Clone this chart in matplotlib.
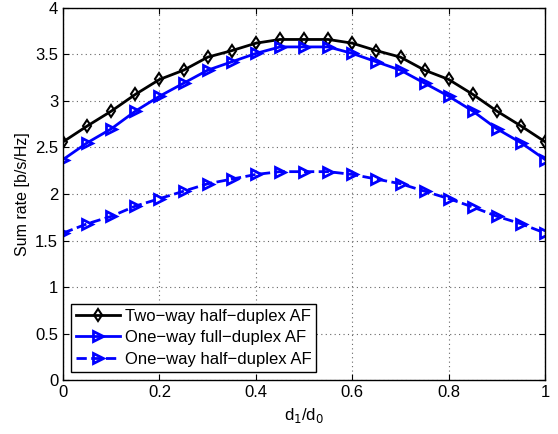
import numpy as np
import matplotlib
matplotlib.use('Agg')
import matplotlib.pyplot as plt

plt.rcParams['font.family'] = ['Liberation Sans', 'DejaVu Sans']

# d1/d0 ratio
ratio = [0.0, 0.05, 0.1, 0.15, 0.2, 0.25, 0.3, 0.35, 0.4, 0.45, 0.5,
         0.55, 0.6, 0.65, 0.7, 0.75, 0.8, 0.85, 0.9, 0.95, 1.0]

# sum rates [b/s/Hz]
two_way_hd = [2.56, 2.73, 2.89, 3.07, 3.23, 3.33, 3.47, 3.54, 3.62, 3.66, 3.66,
              3.66, 3.62, 3.54, 3.47, 3.33, 3.23, 3.07, 2.89, 2.73, 2.56]
one_way_fd = [2.37, 2.55, 2.70, 2.89, 3.05, 3.19, 3.33, 3.42, 3.51, 3.58, 3.58,
              3.58, 3.51, 3.42, 3.33, 3.19, 3.05, 2.89, 2.70, 2.55, 2.37]
one_way_hd = [1.58, 1.68, 1.76, 1.87, 1.95, 2.03, 2.11, 2.16, 2.21, 2.24, 2.24,
              2.24, 2.21, 2.16, 2.11, 2.03, 1.95, 1.86, 1.76, 1.68, 1.58]

fig = plt.figure(figsize=(5.58, 4.34), dpi=100)
ax = fig.add_axes([0.113, 0.124, 0.864, 0.858])

ax.plot(ratio, two_way_hd, 'k-', marker='d', mfc='none', mew=1.5, ms=6, lw=2,
        label='Two\u2212way half\u2212duplex AF')
ax.plot(ratio, one_way_fd, '-', color='b', marker='>', mfc='none', mew=2, ms=6.5, lw=2,
        label='One\u2212way full\u2212duplex AF')
ax.plot(ratio, one_way_hd, '--', color='b', marker='>', mfc='none', mew=2, ms=6.5, lw=2,
        label='One\u2212way half\u2212duplex AF')

ax.set_xlim(0, 1)
ax.set_ylim(0, 4)
ax.set_xticks([0, 0.2, 0.4, 0.6, 0.8, 1])
ax.set_xticklabels(['0', '0.2', '0.4', '0.6', '0.8', '1'])
ax.set_yticks([0, 0.5, 1, 1.5, 2, 2.5, 3, 3.5, 4])
ax.set_yticklabels(['0', '0.5', '1', '1.5', '2', '2.5', '3', '3.5', '4'])
ax.tick_params(direction='in', top=True, right=True, labelsize=12, length=4)
ax.grid(True, linestyle=(0, (1, 3)), color='0.4', lw=0.8)
for s in ax.spines.values():
    s.set_linewidth(1.0)

ax.set_xlabel('d$_1$/d$_0$', fontsize=12)
ax.set_ylabel('Sum rate [b/s/Hz]', fontsize=11.5)

leg = ax.legend(loc='lower left', fontsize=12, fancybox=False, edgecolor='k',
                framealpha=1, borderpad=0.3, labelspacing=0.4, handlelength=2.6,
                handletextpad=0.3, borderaxespad=0.5)
leg.get_frame().set_linewidth(1.0)

plt.savefig('out.png', dpi=100)
